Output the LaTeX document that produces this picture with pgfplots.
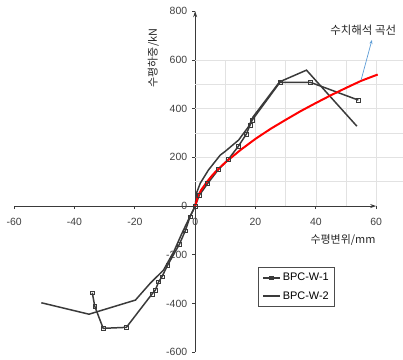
\documentclass[border=0pt]{standalone}
\usepackage{pgfplots}
\pgfplotsset{compat=1.18}
\usepackage{fontspec}
\setmainfont{Liberation Sans}
\newfontfamily\kr{Noto Sans CJK KR}
\usetikzlibrary{arrows.meta}
\definecolor{curve}{HTML}{3A3A3A}
\definecolor{gridc}{HTML}{E2E2E2}
\definecolor{arrowblue}{HTML}{5B9BD5}
\begin{document}
\begin{tikzpicture}
\begin{axis}[
  scale only axis, width=362bp, height=341bp,
  xmin=-60, xmax=60, ymin=-600, ymax=800,
  axis lines=middle,
  axis line style={draw=curve, line width=0.9pt, -{Stealth[length=6bp,width=4bp]}},
  xtick={-60,-40,...,60}, ytick={-600,-400,...,800},
  hide obscured x ticks=false, hide obscured y ticks=false,
  tick align=outside, major tick length=3bp,
  tick style={draw=curve, line width=0.7pt},
  ticklabel style={font=\fontsize{10.5}{12}\selectfont, text=black!75},
  /pgf/number format/assume math mode=true,
  xticklabel style={yshift=-6bp},
  yticklabel style={xshift=-1.5bp},
  clip=false,
  legend style={at={(axis cs:20.8,-250)}, anchor=north west, draw=black!70, line width=0.7pt,
    font=\fontsize{11}{13}\selectfont, row sep=5bp, inner xsep=4bp, inner ysep=4bp,
    cells={anchor=west}},
]
% grid in first quadrant
\draw[gridc, line width=0.6pt] (axis cs:10,0) -- (axis cs:10,600);
\draw[gridc, line width=0.6pt] (axis cs:20,0) -- (axis cs:20,600);
\draw[gridc, line width=0.6pt] (axis cs:30,0) -- (axis cs:30,600);
\draw[gridc, line width=0.6pt] (axis cs:40,0) -- (axis cs:40,600);
\draw[gridc, line width=0.6pt] (axis cs:50,0) -- (axis cs:50,600);
\draw[gridc, line width=0.6pt] (axis cs:60,0) -- (axis cs:60,600);
\draw[gridc, line width=0.6pt] (axis cs:0,100) -- (axis cs:68.8,100);
\draw[gridc, line width=0.6pt] (axis cs:0,200) -- (axis cs:68.8,200);
\draw[gridc, line width=0.6pt] (axis cs:0,300) -- (axis cs:68.8,300);
\draw[gridc, line width=0.6pt] (axis cs:0,400) -- (axis cs:68.8,400);
\draw[gridc, line width=0.6pt] (axis cs:0,500) -- (axis cs:68.8,500);
\draw[gridc, line width=0.6pt] (axis cs:0,600) -- (axis cs:68.8,600);

\addplot[color=curve, line width=1.5pt, mark=square, mark size=1.9pt,
  mark options={fill=white, line width=0.6pt, solid}] coordinates {
  (-34.1,-356) (-33.3,-411) (-30.5,-502) (-22.8,-498) (-14.3,-361) (-13.2,-345)
  (-12.1,-311) (-11,-290) (-9.1,-242) (-5.2,-156) (-3.3,-102) (-1.7,-44) (0,0)
  (1.4,45) (4.1,92) (7.7,150) (11,192) (14.3,245) (17,296) (18.2,333) (18.9,353)
  (28.1,508) (38.2,508) (54.1,435)
};
\addlegendentry{BPC-W-1}
\addplot[color=curve, line width=1.5pt] coordinates {
  (-51,-397) (-35.2,-444) (-19.8,-386) (-14.9,-317) (-10.5,-263) (-7,-185)
  (-4.5,-115) (-2,-50) (0,0) (0.5,55) (1.7,94) (4.4,148) (8.3,209) (10,225)
  (14.4,271) (17.7,326) (19.2,366) (28,510) (36.9,558) (53.6,328)
};
\addlegendentry{BPC-W-2}
\addplot[red, line width=2pt, forget plot] coordinates {
  (0,0) (1,43) (2,66) (4,101) (6,131) (8,156) (10,179) (15,230) (20,276)
  (25,317) (30,354) (35,390) (40,423) (45,455) (50,485) (55,514) (60.5,540)
};

\draw[arrowblue, line width=0.7pt, -{Stealth[length=4bp,width=3bp]}]
  (axis cs:55,517) -- (axis cs:58.6,682);
\node[font=\kr\fontsize{11.5}{13}\selectfont, text=black!85] at (axis cs:55.7,723) {수치해석 곡선};
\node[rotate=90, font=\kr\fontsize{11}{13}\selectfont, text=black!85] at (axis cs:-13.9,608) {수평하중/kN};
\node[font=\kr\fontsize{11}{13}\selectfont, text=black!85] at (axis cs:49,-140) {수평변위/mm};

\path (axis cs:-64.7,-632) rectangle (axis cs:68.8,846);
\end{axis}
\end{tikzpicture}
\end{document}
